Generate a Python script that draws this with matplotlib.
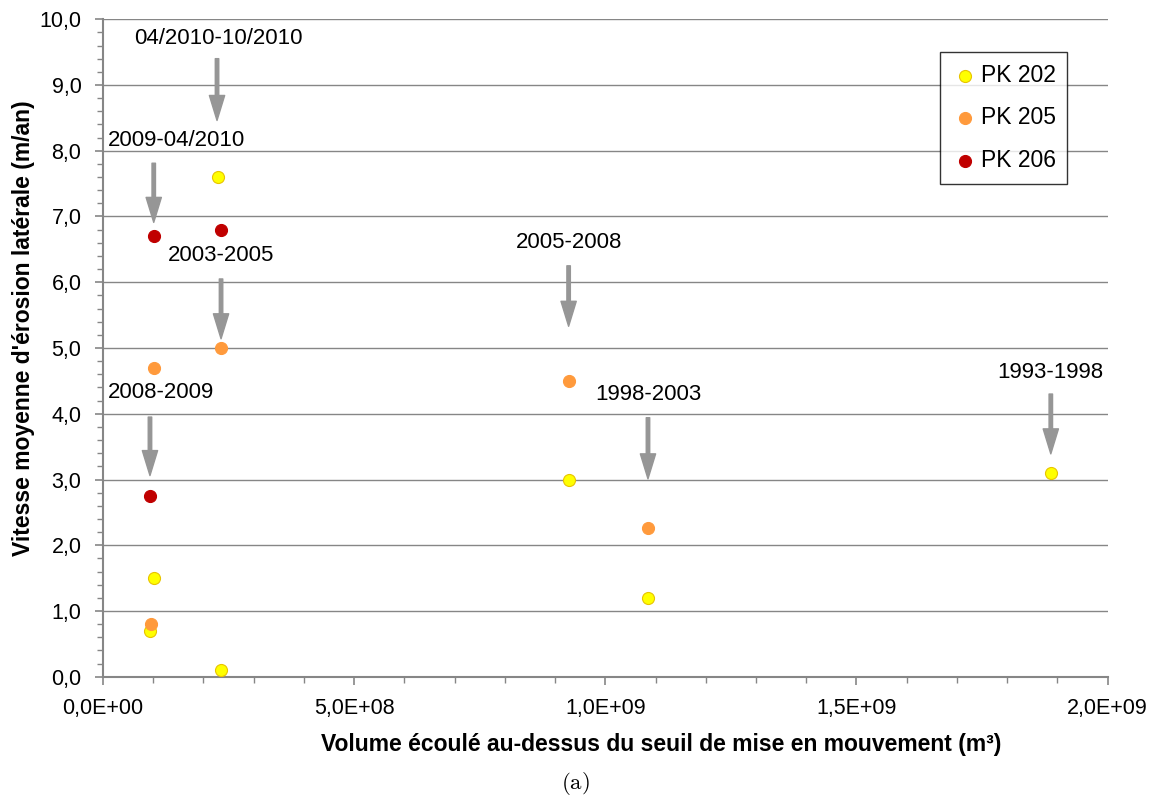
import matplotlib
matplotlib.use("Agg")
import matplotlib.pyplot as plt
from matplotlib.ticker import MultipleLocator, FuncFormatter

plt.rcParams['font.family'] = ['Liberation Sans', 'DejaVu Sans']
plt.rcParams['mathtext.fontset'] = 'cm'

# data
pk202_x = [0.935e8, 1.015e8, 2.29e8, 2.35e8, 9.27e8, 10.85e8, 18.87e8]
pk202_y = [0.7, 1.5, 7.6, 0.1, 3.0, 1.2, 3.1]
pk205_x = [0.955e8, 1.015e8, 2.35e8, 9.27e8, 10.85e8]
pk205_y = [0.8, 4.7, 5.0, 4.5, 2.26]
pk206_x = [1.015e8, 0.935e8, 2.35e8]
pk206_y = [6.7, 2.75, 6.8]

# periods: label, arrow x, arrow top, arrow tip, text position
periods = ["04/2010-10/2010", "2009-04/2010", "2003-2005", "2008-2009",
           "2005-2008", "1998-2003", "1993-1998"]
arrow_x = [2.27e8, 1.01e8, 2.35e8, 0.935e8, 9.27e8, 10.85e8, 18.87e8]
arrow_top = [9.40, 7.81, 6.05, 3.95, 6.25, 3.94, 4.30]
arrow_tip = [8.46, 6.91, 5.14, 3.06, 5.33, 3.01, 3.39]
text_x = [2.29e8, 1.47e8, 2.35e8, 1.15e8, 9.27e8, 10.85e8, 18.87e8]
text_y = [9.71, 8.16, 6.40, 4.32, 6.60, 4.29, 4.62]

fig = plt.figure(figsize=(11.6, 8), dpi=100)
ax = fig.add_axes([0.0888, 0.154, 0.866, 0.822])

ax.scatter(pk202_x, pk202_y, s=75, color='#FFFF00', edgecolors='#E8C400',
           linewidths=0.8, label='PK 202', zorder=3)
ax.scatter(pk205_x, pk205_y, s=75, color='#FF9A3C', edgecolors='#FF9A3C',
           linewidths=0.8, label='PK 205', zorder=3)
ax.scatter(pk206_x, pk206_y, s=75, color='#C00000', edgecolors='#C00000',
           linewidths=0.8, label='PK 206', zorder=3)

for lab, ax_x, top, tip, tx, ty in zip(periods, arrow_x, arrow_top, arrow_tip, text_x, text_y):
    ax.annotate('', xy=(ax_x, tip), xytext=(ax_x, top),
                arrowprops=dict(facecolor='#969696', edgecolor='#969696',
                                width=2.5, headwidth=11, headlength=18, shrink=0))
    ax.text(tx, ty, lab, ha='center', va='center', fontsize=16)

ax.set_xlim(0, 2e9)
ax.set_ylim(0, 10)
ax.xaxis.set_major_locator(MultipleLocator(5e8))
ax.xaxis.set_minor_locator(MultipleLocator(1e8))
ax.yaxis.set_major_locator(MultipleLocator(1))
ax.yaxis.set_minor_locator(MultipleLocator(0.2))


def xfmt(v, pos):
    s = "%.1E" % v
    return s.replace('.', ',')


ax.xaxis.set_major_formatter(FuncFormatter(xfmt))
ax.yaxis.set_major_formatter(FuncFormatter(lambda v, p: ("%.1f" % v).replace('.', ',')))

ax.grid(axis='y', which='major', color='#868686', linewidth=1)
ax.set_axisbelow(True)
for s in ['top', 'right']:
    ax.spines[s].set_visible(False)
for s in ['left', 'bottom']:
    ax.spines[s].set_color('#868686')
    ax.spines[s].set_linewidth(1.5)
ax.tick_params(which='both', direction='out', color='#868686', labelsize=15.5)
ax.tick_params(which='major', length=6, width=1.2, pad=9.5)
ax.tick_params(which='minor', length=4, width=1.0)

ax.set_xlabel("Volume écoulé au-dessus du seuil de mise en mouvement (m³)",
              fontsize=16.5, fontweight='bold')
ax.set_ylabel("Vitesse moyenne d'érosion latérale (m/an)",
              fontsize=16.5, fontweight='bold')
ax.xaxis.set_label_coords(0.556, -0.103)
ax.yaxis.set_label_coords(-0.0796, 0.530)
ax.xaxis.label.set_va('center')
ax.yaxis.label.set_va('center')

leg = ax.legend(loc='upper right', bbox_to_anchor=(0.960, 0.950), fontsize=16.5,
                frameon=True, fancybox=False, edgecolor='black', handletextpad=0.1,
                labelspacing=0.87, borderpad=0.5, handlelength=1.2, borderaxespad=0)
leg.get_frame().set_linewidth(1.0)

fig.text(0.4965, 0.021, r'$\mathrm{(a)}$', ha='center', va='center', fontsize=16.5)

fig.savefig('out.png', dpi=100)
